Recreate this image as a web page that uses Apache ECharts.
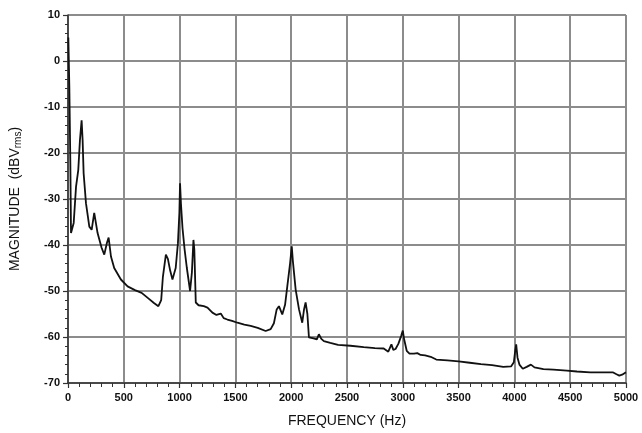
<!DOCTYPE html>
<html>
<head>
<meta charset="utf-8">
<script src="https://cdn.jsdelivr.net/npm/echarts@6/dist/echarts.min.js"></script>
<style>
html, body { margin: 0; padding: 0; background: #fff; }
#main { width: 642px; height: 433px; }
</style>
</head>
<body>
<div id="main"></div>
<script>
// spectrum: frequency (Hz) and magnitude (dBVrms)
var freqHz = [
  3, 12, 21, 27, 51, 72, 92, 107, 122, 131, 140, 161, 191, 212, 235, 248, 265, 301, 325, 349, 364, 385, 414, 474, 534,
  600, 660, 720, 770, 810, 835, 850, 877, 895, 915, 936, 965, 985, 998, 1004, 1012, 1026, 1045, 1065, 1094, 1110, 1124, 1132, 1145, 1170, 1217, 1250, 1294, 1330, 1369, 1395, 1428, 1470, 1518, 1580, 1637, 1700, 1771, 1816,
  1845, 1870, 1890, 1920, 1945, 1965, 1990, 2005, 2015, 2040, 2070, 2099, 2115, 2129, 2145, 2159, 2200, 2230, 2248, 2270, 2293, 2350, 2420, 2531, 2650, 2750, 2829,
  2870, 2898, 2915, 2935, 2960, 2985, 3000, 3012, 3035, 3060, 3100, 3130, 3160, 3200, 3250, 3300, 3400, 3500, 3600, 3700, 3800, 3900, 3970, 3995, 4008, 4016, 4028, 4045, 4075, 4110, 4148, 4180, 4260, 4350, 4470, 4560, 4680, 4800, 4885, 4900, 4915, 4940, 4965, 4990, 5000
];
var magDb = [
  5.1, -5.7, -22.2, -37.4, -35.2, -27.3, -23.7, -17.2, -12.9, -17.2, -24.4, -30.9, -36.0, -36.7, -33.0, -32.7, -37.4, -40.6, -42.1, -39.5, -38.4, -42.5, -45.0, -47.5, -49.0,
  -49.8, -50.4, -51.6, -52.6, -53.3, -52.0, -47.0, -42.1, -43.0, -45.5, -47.5, -45.0, -39.6, -33.0, -26.6, -31.0, -36.3, -41.0, -45.0, -50.0, -46.0, -38.9, -41.0, -52.5, -53.1, -53.3, -53.6, -54.7, -55.2, -54.9, -55.9, -56.2, -56.5, -56.9, -57.3, -57.6, -58.0, -58.7, -58.3,
  -57.0, -54.0, -53.3, -55.1, -53.0, -49.0, -44.0, -40.3, -43.5, -49.7, -54.0, -56.9, -54.0, -52.5, -55.0, -60.1, -60.3, -60.5, -59.4, -60.4, -60.9, -61.3, -61.7, -61.9, -62.2, -62.4, -62.5,
  -63.2, -61.6, -62.8, -62.6, -61.5, -59.8, -58.6, -60.5, -63.0, -63.6, -63.6, -63.5, -63.9, -64.0, -64.3, -64.9, -65.1, -65.3, -65.6, -65.9, -66.1, -66.5, -66.4, -65.5, -62.8, -61.6, -64.5, -66.0, -66.9, -66.5, -66.0, -66.6, -67.0, -67.1, -67.3, -67.5, -67.7, -67.7, -67.7, -67.3, -68.1, -68.4, -68.2, -67.8, -67.7
];

var xMin = 0, xMax = 5000, xStep = 500;
var yMin = -70, yMax = 10, yStep = 10;

var points = freqHz.map(function (f, i) { return [f, magDb[i]]; });

// plain numbers, no thousands separator
function plain(v) { return String(v); }

var chart = echarts.init(document.getElementById('main'));
chart.setOption({
  animation: false,
  backgroundColor: '#fff',
  textStyle: { fontFamily: 'Liberation Sans' },
  grid: { left: 67, right: 16, top: 15, bottom: 47, containLabel: false },
  xAxis: {
    type: 'value',
    min: xMin, max: xMax, interval: xStep,
    name: 'FREQUENCY (Hz)',
    nameLocation: 'middle',
    nameGap: 31,
    nameTextStyle: { fontSize: 14, color: '#111' },
    axisLine: { show: true, onZero: false, lineStyle: { color: '#333', width: 1.5 } },
    axisTick: { show: true, length: 5, lineStyle: { color: '#333', width: 1.2 } },
    minorTick: { show: true, splitNumber: 5, length: 4, lineStyle: { color: '#333', width: 1 } },
    axisLabel: { margin: 9, fontSize: 11, fontWeight: 'bold', color: '#111', formatter: plain },
    splitLine: { show: true, lineStyle: { color: '#8c8c8c', width: 2 } }
  },
  yAxis: {
    type: 'value',
    min: yMin, max: yMax, interval: yStep,
    name: 'MAGNITUDE  (dBV{sub|rms})',
    nameLocation: 'middle',
    nameGap: 45,
    nameRotate: 90,
    nameTextStyle: {
      fontSize: 14, color: '#111',
      rich: { sub: { fontSize: 10, color: '#111', verticalAlign: 'bottom', padding: [6, 0, 0, 0] } }
    },
    axisLine: { show: true, onZero: false, lineStyle: { color: '#333', width: 1.5 } },
    axisTick: { show: true, length: 5, lineStyle: { color: '#333', width: 1.2 } },
    minorTick: { show: true, splitNumber: 5, length: 3, lineStyle: { color: '#333', width: 1 } },
    axisLabel: { margin: 8, fontSize: 11, fontWeight: 'bold', color: '#111', formatter: plain },
    splitLine: { show: true, lineStyle: { color: '#8c8c8c', width: 2 } }
  },
  series: [{
    type: 'line',
    data: points,
    showSymbol: false,
    smooth: false,
    lineStyle: { color: '#111', width: 1.8 }
  }]
});
</script>
</body>
</html>
